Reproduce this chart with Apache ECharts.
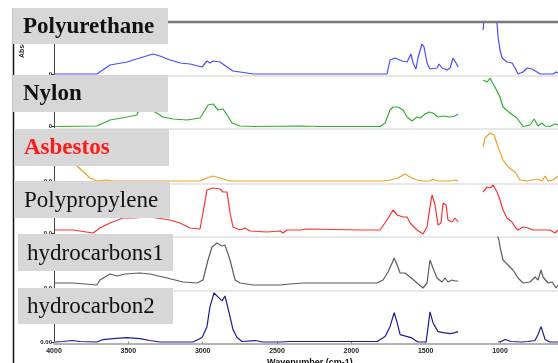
<!DOCTYPE html>
<html>
<head>
<meta charset="utf-8">
<script src="https://cdn.jsdelivr.net/npm/echarts@6/dist/echarts.min.js"></script>
<style>
  html, body { margin: 0; padding: 0; background: #fff; }
  #chart { width: 558px; height: 363px; }
</style>
</head>
<body>
<div id="chart"></div>
<script>
// IR spectra, [wavenumber (cm-1), absorbance]; null marks the region left out of each scan
const sampleNames = ['Polyurethane', 'Nylon', 'Asbestos', 'Polypropylene', 'hydrocarbons1', 'hydrocarbon2'];
const lineColors = ['#4a4aff', '#2fae2f', '#f0a020', '#ff3030', '#5c5c5c', '#1c1c98'];
const zeroLabels = ['0', '0', '0.0', '0.0', '0.0', '0.00'];
const xTickValues = [4000, 3500, 3000, 2500, 2000, 1500, 1000];
const xAxisTitle = 'Wavenumber (cm-1)';
const yAxisTitle = 'Absorbance';

const polyurethane = [
  [4000,0],[3711,0],[3623,0.18],[3509,0.24],[3401,0.34],[3334,0.40],[3287,0.36],[3220,0.28],
  [3152,0.22],[3085,0.20],[3004,0.14],[2971,0.26],[2951,0.22],[2930,0.26],[2883,0.24],[2836,0.14],
  [2796,0.06],[2702,0.02],[2661,0],[1760,0],[1740,0.28],[1706,0.32],[1659,0.26],[1625,0.24],
  [1599,0.40],[1585,0.22],[1565,0.10],[1552,0.32],[1525,0.60],[1511,0.54],[1491,0.22],[1471,0.10],
  [1424,0.12],[1410,0.20],[1390,0.12],[1356,0.08],[1336,0.12],[1316,0.32],[1296,0.22],[1282,0.14],
  [1200,null],
  [1114,0.88],[1101,1.3],[1030,1.3],[1020,1.0],[1013,0.74],[1000,0.48],[986,0.32],[953,0.24],
  [919,0.22],[899,0.12],[879,0],[845,0.04],[818,0.12],[785,0.10],[751,0.04],[731,0],[643,0],
  [623,0.04],[610,0.02]
];
const nylon = [
  [3993,0],[3711,0.01],[3623,0.13],[3509,0.19],[3442,0.23],[3435,0.29],[3375,0.39],[3321,0.29],
  [3267,0.19],[3200,0.15],[3105,0.13],[3018,0.17],[2984,0.33],[2964,0.43],[2930,0.45],[2897,0.33],
  [2863,0.35],[2836,0.23],[2803,0.07],[2749,0.01],[2661,0],[2345,0.01],[2211,0],[1807,0],
  [1773,0.07],[1740,0.33],[1719,0.39],[1686,0.39],[1652,0.33],[1625,0.19],[1592,0.11],[1558,0.19],
  [1538,0.17],[1504,0.25],[1477,0.29],[1451,0.27],[1417,0.19],[1383,0.21],[1336,0.19],[1303,0.21],
  [1282,0.25],
  [1200,null],
  [1114,0.93],[1087,0.89],[1067,0.97],[1054,0.89],[1034,0.79],[1000,0.59],[980,0.39],[933,0.27],
  [886,0.17],[845,0],[798,0.03],[771,0.15],[744,0.01],[718,0.07],[697,0.01],[664,0],[630,0.05],
  [610,0.03]
];
const asbestos = [
  [4000,0.82],[3926,0.56],[3845,0.30],[3758,0.06],[3711,0],[3643,0.02],[3603,0],[3065,0],[3018,0],
  [2971,0.06],[2930,0.10],[2883,0.06],[2816,0],[1787,0],[1740,0.02],[1686,0.06],[1639,0.14],
  [1605,0.08],[1558,0.02],[1518,0],[1471,0],[1451,0.04],[1424,0],[1336,0],[1303,0.02],[1282,0],
  [1200,null],
  [1114,0.68],[1101,0.86],[1067,0.96],[1040,0.92],[1013,0.68],[980,0.42],[946,0.28],[899,0.18],
  [865,0.02],[818,0],[751,0.04],[718,0],[697,0.10],[677,0],[643,0.02],[610,0.10]
];
const polypropylene = [
  [3993,0.06],[3872,0.06],[3738,0],[3691,0.10],[3623,0.20],[3536,0.30],[3469,0.30],[3354,0.32],
  [3220,0.26],[3152,0.20],[3085,0.10],[3018,0.08],[2998,0.40],[2971,0.86],[2930,0.90],[2883,0.88],
  [2863,0.82],[2836,0.82],[2816,0.40],[2796,0.12],[2749,0.06],[2715,0.10],[2682,0.04],[2567,0.02],
  [2480,0.04],[2460,0],[2433,0.06],[2345,0.06],[2298,0.08],[1942,0.06],[1807,0.06],[1760,0.26],
  [1719,0.46],[1692,0.36],[1652,0.32],[1625,0.32],[1605,0.20],[1558,0.06],[1518,-0.02],[1491,0.12],
  [1471,0.52],[1457,0.76],[1437,0.56],[1417,0.16],[1397,0.20],[1383,0.60],[1363,0.56],[1350,0.26],
  [1323,0.22],[1303,0.30],[1282,0.22],
  [1200,null],
  [1114,0.82],[1087,0.92],[1067,0.90],[1047,0.96],[1020,0.82],[1000,0.66],[980,0.46],[953,0.30],
  [919,0.22],[899,0.12],[879,0.06],[845,0.12],[812,0.10],[778,0.06],[731,0.06],[664,0.06],
  [630,0],[610,0.06]
];
const hydrocarbons1 = [
  [3993,0.10],[3872,0.10],[3711,0.06],[3691,0.16],[3623,0.28],[3576,0.24],[3522,0.28],[3422,0.30],
  [3354,0.28],[3240,0.20],[3132,0.12],[3038,0.10],[2998,0.16],[2964,0.56],[2937,0.82],[2904,0.90],
  [2870,0.84],[2850,0.86],[2816,0.56],[2782,0.16],[2749,0.10],[2661,0.06],[2480,0.06],[2413,0.08],
  [2325,0.10],[2097,0.10],[1827,0.10],[1787,0.16],[1753,0.32],[1726,0.50],[1712,0.60],[1692,0.46],
  [1672,0.30],[1639,0.30],[1605,0.22],[1558,0.10],[1518,0],[1491,0.10],[1471,0.56],[1451,0.40],
  [1424,0.20],[1390,0.12],[1370,0.20],[1350,0.12],[1323,0.16],[1303,0.14],[1282,0.14],
  [1200,null],
  [1020,1.06],[1007,0.96],[1000,0.82],[980,0.56],[946,0.46],[913,0.36],[879,0.20],[845,0.10],
  [798,0.12],[765,0.22],[744,0.16],[724,0.36],[711,0.22],[677,0.10],[650,0.12],[623,0],[610,0.06]
];
const hydrocarbon2 = [
  [3993,0],[3939,0.01],[3879,0.03],[3825,0.01],[3711,0],[3670,0.05],[3603,0.07],[3509,0.09],
  [3422,0.07],[3354,0.03],[3287,0],[3065,0],[3004,0.09],[2971,0.31],[2951,0.71],[2924,0.99],
  [2897,0.91],[2870,0.83],[2850,0.93],[2816,0.51],[2796,0.25],[2769,0.09],[2735,0.01],[2648,0.03],
  [2594,0],[2480,0],[2413,0.01],[2030,0.01],[2023,0.05],[1989,0.01],[1827,0.01],[1773,0.11],
  [1740,0.31],[1712,0.59],[1692,0.39],[1672,0.15],[1599,0.09],[1552,0],[1497,0],[1471,0.61],
  [1451,0.39],[1417,0.21],[1383,0.19],[1370,0.23],[1336,0.17],[1303,0.19],[1282,0.21],
  [1150,null],
  [1013,0],[993,0.01],[966,0.05],[926,0.01],[859,0],[812,0.01],[765,0.03],[744,0.15],[724,0.31],
  [711,0.19],[697,0.05],[664,0],[643,0],[610,0]
];
const spectra = [polyurethane, nylon, asbestos, polypropylene, hydrocarbons1, hydrocarbon2];

// stacked panel layout (pixels) and each panel's absorbance window
const panels = [
  { top: 22,    height: 54,   yMin: -0.04, yMax: 1.04 },
  { top: 76,    height: 52.5, yMin: -0.04, yMax: 1.01 },
  { top: 128.5, height: 55.5, yMin: -0.06, yMax: 1.05 },
  { top: 184,   height: 53,   yMin: -0.08, yMax: 0.98 },
  { top: 237,   height: 54,   yMin: -0.06, yMax: 1.02 },
  { top: 291,   height: 52.5, yMin: -0.03, yMax: 1.03 }
];
// name tags drawn over the left of each panel
const tags = [
  { x: 13, y: 8,   w: 155, h: 36, bold: true,  color: '#111' },
  { x: 13, y: 75,  w: 155, h: 37, bold: true,  color: '#111' },
  { x: 14, y: 129, w: 155, h: 37, bold: true,  color: '#ff1a1a' },
  { x: 14, y: 181, w: 156, h: 37, bold: false, color: '#111' },
  { x: 18, y: 234, w: 155, h: 37, bold: false, color: '#111' },
  { x: 18, y: 288, w: 155, h: 36, bold: false, color: '#111' }
];

const last = panels.length - 1;
const grids = panels.map(p => ({ left: 54, right: 0, top: p.top, height: p.height }));

const xAxes = panels.map((p, i) => ({
  type: 'value', gridIndex: i, min: 610, max: 4000, inverse: true,
  axisLine: { show: true, onZero: false,
    lineStyle: { color: i === last ? '#b4b4b4' : '#e8e8e8', width: 2 } },
  axisTick: i === last
    ? { show: true, customValues: xTickValues, length: 2, inside: true, lineStyle: { color: '#888' } }
    : { show: false },
  axisLabel: i === last
    ? { show: true, customValues: xTickValues, margin: 4, fontSize: 7, fontWeight: 'bold',
        fontFamily: 'Liberation Sans', color: '#222', formatter: v => String(v) }
    : { show: false },
  splitLine: { show: false }
}));

const yAxes = panels.map((p, i) => ({
  type: 'value', gridIndex: i, min: p.yMin, max: p.yMax,
  axisLine: { show: true, lineStyle: { color: '#444', width: 1 } },
  axisTick: { show: true, customValues: [0], length: 3, lineStyle: { color: '#444' } },
  axisLabel: { show: true, customValues: [0], margin: 2, fontSize: 6, fontWeight: 'bold',
    fontFamily: 'Liberation Sans', color: '#222', formatter: () => zeroLabels[i] },
  splitLine: { show: false }
}));

const series = spectra.map((data, i) => ({
  type: 'line', xAxisIndex: i, yAxisIndex: i, data: data,
  showSymbol: false, connectNulls: false, clip: true,
  lineStyle: { color: lineColors[i], width: 1.2 }, z: 3
}));

const graphics = [
  { type: 'line', z: 50, shape: { x1: 13.5, y1: 8, x2: 13.5, y2: 363 },
    style: { stroke: '#111', lineWidth: 1.5 } },
  { type: 'line', z: 50, shape: { x1: 168, y1: 22, x2: 558, y2: 22 },
    style: { stroke: '#7a7a7a', lineWidth: 2.5 } },
  { type: 'text', z: 40, x: 22, y: 58, rotation: Math.PI / 2,
    style: { text: yAxisTitle, fill: '#222', font: 'bold 7px "Liberation Sans"',
      textAlign: 'left', textVerticalAlign: 'middle' } },
  { type: 'text', z: 50, x: 267, y: 358,
    style: { text: xAxisTitle, fill: '#111', font: 'bold 9px "Liberation Sans"',
      textAlign: 'left', textVerticalAlign: 'top' } }
];
tags.forEach((t, i) => {
  graphics.push({ type: 'rect', z: 60, shape: { x: t.x, y: t.y, width: t.w, height: t.h },
    style: { fill: '#d7d7d7' } });
  graphics.push({ type: 'text', z: 61, x: t.x + (i < 4 ? 10 : 9), y: t.y + t.h / 2 + 1,
    style: { text: sampleNames[i], fill: t.color,
      font: (t.bold ? 'bold ' : '') + '23px "Liberation Serif"',
      textAlign: 'left', textVerticalAlign: 'middle' } });
});

const chart = echarts.init(document.getElementById('chart'), null, { renderer: 'canvas' });
chart.setOption({
  animation: false,
  backgroundColor: '#ffffff',
  grid: grids,
  xAxis: xAxes,
  yAxis: yAxes,
  series: series,
  graphic: graphics
});
</script>
</body>
</html>
